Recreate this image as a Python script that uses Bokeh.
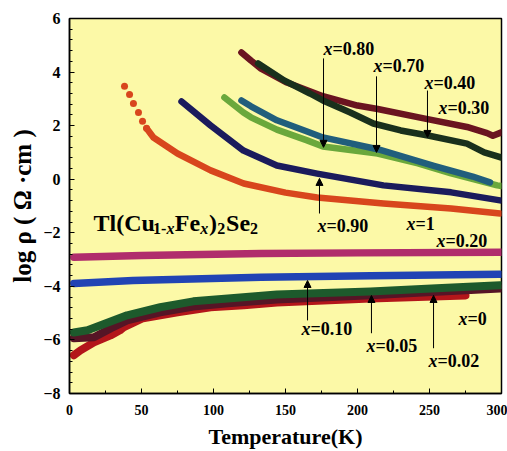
from bokeh.embed import file_html
from bokeh.models import Arrow, Label, NormalHead, Range1d, SingleIntervalTicker
from bokeh.plotting import figure
from bokeh.resources import INLINE

# log10 resistivity (ohm cm) against temperature (K) for Tl(Cu1-xFex)2Se2

# x = 1: sparse points at low temperature, then a dense run
T_x100_pts = [38.2, 41.7, 44.4, 47.9, 50.7, 53.5]
R_x100_pts = [3.47, 3.16, 2.83, 2.49, 2.16, 1.90]
T_x100 = [53.5, 58.3, 75, 98, 121, 150, 172, 218, 265, 299]
R_x100 = [1.90, 1.56, 0.96, 0.33, -0.16, -0.50, -0.68, -0.91, -1.09, -1.28]

T_x090 = [77.8, 97.9, 120.8, 144, 172, 218, 265, 299]
R_x090 = [2.90, 2.01, 1.07, 0.51, 0.21, -0.23, -0.49, -0.79]

T_x080 = [107.6, 120.8, 126, 144, 165, 176, 214, 242, 265, 297, 300]
R_x080 = [3.05, 2.49, 2.31, 1.85, 1.45, 1.22, 0.96, 0.59, 0.22, -0.23, -0.25]

T_x070 = [119.4, 126, 144, 165, 176, 214, 253, 280, 292]
R_x070 = [2.94, 2.72, 2.20, 1.78, 1.56, 1.12, 0.50, 0.10, -0.12]

T_x040 = [131, 149, 167, 176, 195, 211, 230, 249, 276, 288, 300]
R_x040 = [4.32, 3.69, 3.20, 2.94, 2.49, 2.08, 1.82, 1.63, 1.33, 1.00, 0.81]

T_x030 = [119.4, 126, 133, 151, 176, 200, 214, 246, 276, 290, 294, 300]
R_x030 = [4.73, 4.43, 4.13, 3.61, 3.10, 2.75, 2.62, 2.27, 1.95, 1.72, 1.62, 1.75]

T_x020 = [3, 50, 133, 200, 300]
R_x020 = [-2.91, -2.85, -2.77, -2.75, -2.73]

T_x010 = [3, 44, 133, 209, 299]
R_x010 = [-3.89, -3.78, -3.66, -3.60, -3.55]

T_x005 = [3, 12.5, 40, 63, 86, 110, 144, 209, 255, 299]
R_x005 = [-5.72, -5.64, -5.08, -4.78, -4.56, -4.45, -4.30, -4.19, -4.07, -3.96]

T_x002 = [3, 17, 28.5, 40, 63, 86, 110, 144, 209, 255, 299]
R_x002 = [-5.94, -5.90, -5.57, -5.27, -4.97, -4.75, -4.63, -4.49, -4.33, -4.20, -4.08]

T_x000 = [3, 7.6, 17, 28.5, 35, 37.5, 51, 75, 98, 121, 144, 209, 275]
R_x000 = [-6.57, -6.39, -6.09, -5.83, -5.64, -5.53, -5.19, -4.97, -4.78, -4.71, -4.60, -4.45, -4.34]

x_ticks_step = 50
y_ticks_step = 2

SERIF = "Liberation Serif"
BG = "#fcf9a7"

p = figure(
    width=507, height=451,
    x_range=Range1d(0, 300), y_range=Range1d(-8, 6),
    output_backend="svg", toolbar_location=None,
    min_border_left=69, min_border_right=6,
    min_border_top=18, min_border_bottom=58,
    background_fill_color=BG, border_fill_color="white",
)
p.grid.visible = False
p.outline_line_color = "black"
p.outline_line_width = 1.5

p.xaxis.ticker = SingleIntervalTicker(interval=x_ticks_step, num_minor_ticks=2)
p.yaxis.ticker = SingleIntervalTicker(interval=y_ticks_step, num_minor_ticks=5)
for ax in (p.xaxis[0], p.yaxis[0]):
    ax.axis_line_color = "black"
    ax.axis_line_width = 1.5
    ax.major_tick_in = 5
    ax.major_tick_out = 0
    ax.minor_tick_in = 3
    ax.minor_tick_out = 0
    ax.major_tick_line_color = "black"
    ax.minor_tick_line_color = "black"
    ax.major_label_text_font = SERIF
    ax.major_label_text_font_style = "bold"
    ax.major_label_text_color = "black"
    ax.axis_label_text_font = SERIF
    ax.axis_label_text_font_style = "bold"
    ax.axis_label_text_color = "black"
p.xaxis.major_label_text_font_size = "14px"
p.xaxis.major_label_standoff = 11
p.yaxis.major_label_text_font_size = "16px"
p.yaxis.major_label_standoff = 9

p.xaxis.axis_label = "Temperature(K)"
p.xaxis.axis_label_text_font_size = "22px"
p.xaxis.axis_label_standoff = 6

p.yaxis.axis_label = "log ρ ( Ω ·cm )"
p.yaxis.axis_label_text_font_size = "25px"
p.yaxis.axis_label_standoff = 4

# curves, low-resistance group first (drawn a little heavier)
curves = [
    (T_x000, R_x000, "#b3161a", 8),
    (T_x002, R_x002, "#561526", 8),
    (T_x005, R_x005, "#1d5a2c", 8),
    (T_x010, R_x010, "#2144b4", 7.5),
    (T_x020, R_x020, "#b02d6c", 7.5),
    (T_x100, R_x100, "#d8461d", 6.5),
    (T_x090, R_x090, "#1b1b5c", 6.5),
    (T_x080, R_x080, "#6aa83c", 6.5),
    (T_x070, R_x070, "#215e7c", 6.5),
    (T_x030, R_x030, "#6a1420", 6.5),
    (T_x040, R_x040, "#19301c", 6.5),
]
for T, R, c, lw in curves:
    p.line(T, R, line_width=lw, line_color=c, line_cap="round", line_join="round")
p.scatter(T_x100_pts, R_x100_pts, size=7, fill_color="#d8461d", line_color=None)


def add_text(text, x, y, size, style="bold", align="left"):
    p.add_layout(Label(
        x=x, y=y, text=text, text_font=SERIF, text_font_size=size,
        text_font_style=style, text_align=align, text_baseline="alphabetic",
        text_color="black",
    ))


# composition labels: italic x, then the value
series_labels = [
    ("0.80", 182.6, 4.86), ("0.70", 217.4, 4.23), ("0.40", 252.8, 3.60),
    ("0.30", 262.5, 2.66), ("0.90", 178.5, -1.74), ("1", 240.3, -1.67),
    ("0.20", 261.1, -2.30), ("0.10", 167.4, -5.58), ("0.05", 212.5, -6.22),
    ("0.02", 255.6, -6.78), ("0", 276.4, -5.21),
]
for val, x, y in series_labels:
    add_text("x", x, y, "18px", style="bold italic", align="right")
    add_text("=" + val, x, y, "18px")

# pointer arrows: (T, tail, head)
pointers = [
    (176.4, 4.51, 1.19), (213.2, 3.84, 1.00), (248.6, 3.31, 1.56),
    (173.6, -1.28, 0.03), (165.3, -5.27, -3.78), (209.7, -5.75, -4.34),
    (252.8, -6.31, -4.34),
]
for x, y0, y1 in pointers:
    p.add_layout(Arrow(
        x_start=x, y_start=y0, x_end=x, y_end=y1, line_width=1, line_color="black",
        end=NormalHead(size=7, fill_color="black", line_color="black"),
    ))

# compound formula
main_y, sub_y = -1.63, -1.83
formula = [
    ("Tl(Cu", 16.7, main_y, "24px", "bold"),
    ("1-", 57.9, sub_y, "16px", "bold"),
    ("x", 67.4, sub_y, "16px", "bold italic"),
    ("Fe", 73.1, main_y, "24px", "bold"),
    ("x", 90.8, sub_y, "16px", "bold italic"),
    (")", 96.9, main_y, "24px", "bold"),
    ("2", 102.6, sub_y, "16px", "bold"),
    ("Se", 108.7, main_y, "24px", "bold"),
    ("2", 125.4, sub_y, "16px", "bold"),
]
for t, x, y, s, st in formula:
    add_text(t, x, y, s, style=st)

open("out.html", "w").write(file_html(p, INLINE))
